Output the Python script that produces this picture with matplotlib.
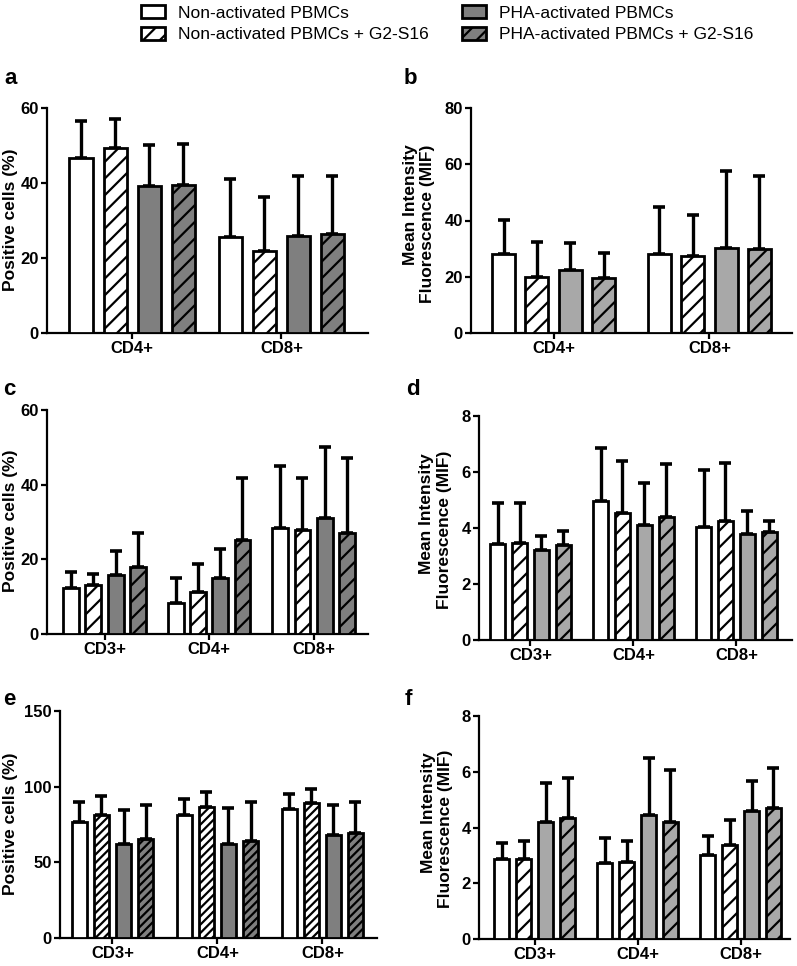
import numpy as np
import matplotlib
matplotlib.use("Agg")
import matplotlib.pyplot as plt
from matplotlib.patches import Patch

plt.rcParams["font.family"] = ["Liberation Sans", "DejaVu Sans"]
plt.rcParams["hatch.linewidth"] = 1.6

# Legend / series names
series = [
    "Non-activated PBMCs",
    "Non-activated PBMCs + G2-S16",
    "PHA-activated PBMCs",
    "PHA-activated PBMCs + G2-S16",
]

cats_ab = ["CD4+", "CD8+"]
cats_cf = ["CD3+", "CD4+", "CD8+"]

# a: positive cells (%)
a_mean = [[46.6, 25.5], [49.3, 21.9], [39.3, 26.0], [39.5, 26.3]]
a_sd = [[9.8, 15.7], [7.8, 14.3], [10.8, 15.8], [10.9, 15.5]]

# b: MIF
b_mean = [[28.0, 28.0], [20.0, 27.3], [22.4, 30.2], [19.4, 30.0]]
b_sd = [[12.3, 16.7], [12.2, 14.6], [9.6, 27.5], [8.9, 25.7]]

# c: positive cells (%)
c_mean = [[12.2, 8.4, 28.3], [13.1, 11.2, 27.9], [15.8, 15.1, 31.2], [18.0, 25.1, 27.0]]
c_sd = [[4.5, 6.7, 16.7], [2.9, 7.5, 14.0], [6.3, 7.8, 19.0], [9.1, 16.6, 20.1]]

# d: MIF
d_mean = [[3.42, 4.96, 4.02], [3.45, 4.52, 4.25], [3.21, 4.11, 3.79], [3.39, 4.40, 3.85]]
d_sd = [[1.48, 1.91, 2.05], [1.45, 1.88, 2.06], [0.50, 1.51, 0.82], [0.50, 1.87, 0.40]]

# e: positive cells (%)
e_mean = [[76.8, 81.6, 85.4], [81.6, 86.5, 88.9], [62.4, 62.0, 67.9], [65.3, 64.2, 69.7]]
e_sd = [[13.2, 10.2, 9.7], [12.2, 10.1, 9.7], [22.5, 24.0, 20.3], [22.9, 25.8, 20.3]]

# f: MIF
f_mean = [[2.87, 2.72, 3.00], [2.87, 2.76, 3.36], [4.21, 4.45, 4.60], [4.33, 4.21, 4.69]]
f_sd = [[0.59, 0.90, 0.68], [0.65, 0.74, 0.91], [1.38, 2.06, 1.08], [1.46, 1.86, 1.44]]

W, H = 797, 966
fig = plt.figure(figsize=(W / 100, H / 100), dpi=100)


def box(x0, y0, x1, y1):
    return [x0 / W, 1 - y1 / H, (x1 - x0) / W, (y1 - y0) / H]


def ftext(xp, yp, s, **kw):
    return fig.text(xp / W, 1 - yp / H, s, **kw)


dark = "#7f7f7f"
light = "#a8a8a8"

# letter position, axes box, categories, data, y max, ticks, y label pieces (text, x, y in px)
panels = [
    ("a", (4, 84), box(47, 108, 368, 333), cats_ab, a_mean, a_sd, 60, [0, 20, 40, 60],
     [("Positive cells (%)", 11, 220)], dark, "//", (-0.57, 1.58), 0.228, 0.155),
    ("b", (404, 84), box(471, 108, 792, 333), cats_ab, b_mean, b_sd, 80, [0, 20, 40, 60, 80],
     [("Mean Intensity", 410, 205), ("Fluorescence (MIF)", 427, 224)],
     light, "//", (-0.53, 1.53), 0.214, 0.148),
    ("c", (3, 395), box(47, 410, 368, 634), cats_cf, c_mean, c_sd, 60, [0, 20, 40, 60],
     [("Positive cells (%)", 11, 521)], dark, "//", (-0.55, 2.52), 0.213, 0.152),
    ("d", (406, 395), box(479, 416, 792, 640), cats_cf, d_mean, d_sd, 8, [0, 2, 4, 6, 8],
     [("Mean Intensity", 426, 514), ("Fluorescence (MIF)", 445, 530)],
     light, "//", (-0.50, 2.54), 0.213, 0.150),
    ("e", (3, 705), box(60, 711, 377, 938), cats_cf, e_mean, e_sd, 150, [0, 50, 100, 150],
     [("Positive cells (%)", 11, 824)], dark, "////", (-0.50, 2.52), 0.21, 0.148),
    ("f", (405, 705), box(479, 716, 790, 939), cats_cf, f_mean, f_sd, 8, [0, 2, 4, 6, 8],
     [("Mean Intensity", 428, 813), ("Fluorescence (MIF)", 446, 829)],
     light, "//", (-0.54, 2.48), 0.213, 0.150),
]

for letter, lpos, pos, cats, means, sds, ymax, yticks, ylabs, gray, hatch, xl, step, bw in panels:
    ax = fig.add_axes(pos)
    x = np.arange(len(cats))
    colors = ["white", "white", gray, gray]
    hatches = [None, hatch, None, hatch]
    for i in range(4):
        xi = x + (i - 1.5) * step
        m = np.array(means[i])
        s = np.array(sds[i])
        ax.errorbar(xi, m, yerr=[np.zeros_like(s), s], fmt="none", ecolor="black",
                    elinewidth=2.4, capsize=4.5, capthick=2.6, zorder=2)
        ax.bar(xi, m, width=bw, color=colors[i], edgecolor="black", linewidth=2,
               hatch=hatches[i], zorder=3)
    ax.set_xlim(*xl)
    ax.set_ylim(0, ymax)
    ax.set_yticks(yticks)
    ax.set_xticks(x)
    ax.set_xticklabels(cats, fontsize=12, fontweight="bold")
    for t in ax.get_yticklabels():
        t.set_fontsize(12)
        t.set_fontweight("bold")
    for txt, xp, yp in ylabs:
        ftext(xp, yp, txt, fontsize=12.5, fontweight="bold", rotation=90,
              ha="center", va="center")
    ax.spines["top"].set_visible(False)
    ax.spines["right"].set_visible(False)
    ax.spines["left"].set_linewidth(1.6)
    ax.spines["bottom"].set_linewidth(1.6)
    ax.tick_params(axis="both", width=1.6, length=4.5, pad=1.5)
    ftext(lpos[0], lpos[1], letter, fontsize=16, fontweight="bold",
          va="baseline", ha="left")

handles = [
    Patch(facecolor="white", edgecolor="black", linewidth=2),
    Patch(facecolor="white", edgecolor="black", linewidth=2, hatch="//"),
    Patch(facecolor=dark, edgecolor="black", linewidth=2),
    Patch(facecolor=dark, edgecolor="black", linewidth=2, hatch="//"),
]
fig.legend(handles, series, ncol=2, loc="upper left",
           bbox_to_anchor=(141 / W, 1 - 5 / H), frameon=False,
           fontsize=12.5, handlelength=1.38, handleheight=0.8, columnspacing=1.9,
           labelspacing=0.35, handletextpad=0.75, borderpad=0, borderaxespad=0)

fig.savefig("out.png", dpi=100)
